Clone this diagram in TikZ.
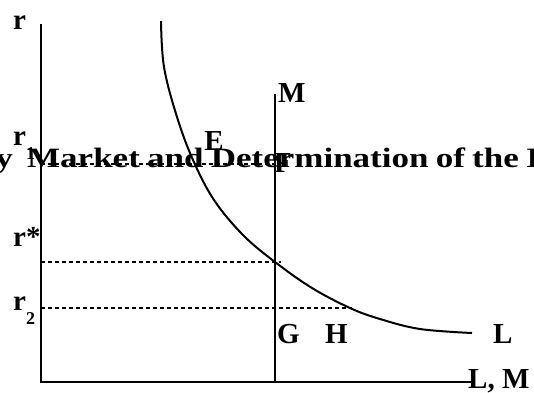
\documentclass[tikz,border=0pt]{standalone}
\usepackage{fontspec}
\setmainfont{Liberation Serif}
\newcommand\lblfont{\bfseries\fontsize{29}{30}\selectfont}
\newcommand\subfont{\bfseries\fontsize{18}{18}\selectfont}
\newcommand\ttlfont{\bfseries\fontsize{28}{30}\selectfont}
\newcommand\ws{\hspace{5.8pt}}
\tikzset{
  lbl/.style={inner sep=0pt, font=\lblfont},
  ttl/.style={inner sep=0pt, font=\ttlfont},
  axisline/.style={line width=2.4pt},
  mline/.style={line width=2pt},
  curveline/.style={line width=2pt},
  dline/.style={line width=1.6pt, dash pattern=on 4pt off 3pt}
}
\begin{document}
\begin{tikzpicture}[x=1pt,y=-1pt]
\useasboundingbox (0,0) rectangle (534,392);
% axes
\coordinate (O) at (41,382);
\coordinate (Ytop) at (41,24);
\coordinate (Xend) at (472,382);
\draw[axisline] (Ytop) -- (O) -- (Xend);
% money supply line
\coordinate (Mtop) at (275,94);
\coordinate (Mbot) at (275,382);
\draw[mline] (Mtop) -- (Mbot);
% dashed levels
\coordinate (r1a) at (41,164);
\coordinate (r1b) at (278,164);
\coordinate (rsa) at (41,262);
\coordinate (rsb) at (281,262);
\coordinate (r2a) at (41,308);
\coordinate (r2b) at (352,308);
\draw[dline] (r1a) -- (r1b);
\draw[dline] (rsa) -- (rsb);
\draw[dline] (r2a) -- (r2b);
% demand curve
\draw[curveline] plot[smooth, tension=0.6] coordinates {(161,21) (164,67) (177,117) (193,160) (214,200) (243,235) (275,262) (312,288) (350,308) (380,319) (420,329) (472,333)};
% title (clipped by the page)
\node[ttl, anchor=base east] (title0) at (13,167) {\scalebox{1.25}[1]{Money}};
\node[ttl, anchor=base west] (title) at (27,167) {\scalebox{1.25}[1]{Market\ws and\ws Determination\ws of\ws the\ws Interest\ws Rate}};
% labels
\node[lbl, anchor=base west] (rlab) at (13,29) {r};
\node[lbl, anchor=base west] (r1lab) at (13,145) {r\raisebox{-14pt}{\subfont 1}};
\node[lbl, anchor=base] (Elab) at (214,150) {E};
\node[lbl, anchor=base] (Flab) at (283,172) {F};
\node[lbl, anchor=base west] (Mlab) at (278,102) {M};
\node[lbl, anchor=base west] (rslab) at (13,246) {r*};
\node[lbl, anchor=base west] (r2lab) at (13,310) {r\raisebox{-14pt}{\subfont 2}};
\node[lbl, anchor=base west] (Glab) at (277,343) {G};
\node[lbl, anchor=base west] (Hlab) at (325,343) {H};
\node[lbl, anchor=base west] (Llab) at (493,343) {L};
\node[lbl, anchor=base west] (LMlab) at (468,388) {L, M};
\end{tikzpicture}
\end{document}
